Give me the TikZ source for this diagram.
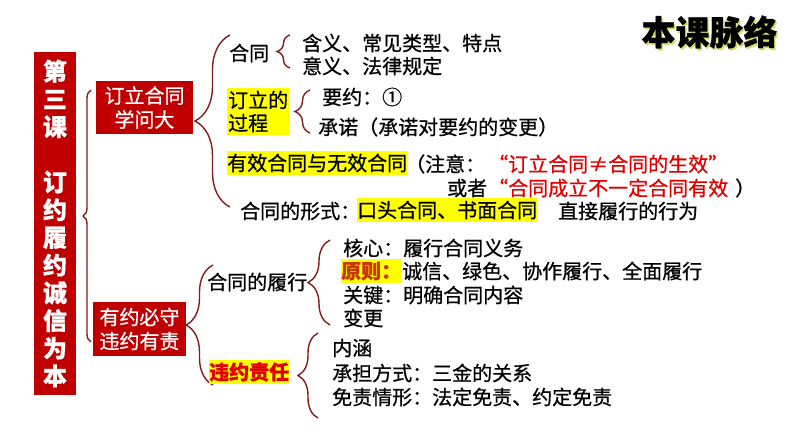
\documentclass[tikz,border=0pt]{standalone}
\usepackage{fontspec}
\setmainfont{Noto Sans CJK SC}[FakeBold=0.7]
\usetikzlibrary{decorations.pathreplacing}
\definecolor{boxred}{HTML}{C00000}
\definecolor{bracered}{HTML}{7F1D1D}
\definecolor{hiyellow}{HTML}{FFFF00}
\definecolor{warnred}{HTML}{E00000}
\definecolor{prinred}{HTML}{C8380A}
\definecolor{ttlshade}{HTML}{D4DC6A}
\tikzset{
  redbox/.style={fill=boxred, text=white, inner sep=0pt, align=center, font=\fontsize{20}{24}\selectfont},
  brc/.style={draw=bracered, line width=1.4pt, decorate, decoration={brace, amplitude=#1}},
  txt/.style={anchor=west, inner sep=0pt, font=\fontsize{20}{24}\selectfont},
  hltxt/.style={txt, fill=hiyellow, inner ysep=2.5pt},
  warn/.style={txt, text=warnred},
  hlkey/.style={hltxt, font=\bfseries\fontsize{20}{24}\selectfont},
  ttl/.style={inner sep=0pt, font=\bfseries\fontsize{34}{40}\selectfont},
}
\begin{document}
\begin{tikzpicture}[x=1pt,y=-1pt]
  \useasboundingbox (0,0) rectangle (794,447);
  % title
  \node[ttl, text=ttlshade] (ttlbg) at (711,34) {本课脉络};
  \node[ttl] (ttlfg) at (709.5,32) {本课脉络};
  % red boxes
  \node[redbox, minimum width=42, minimum height=343, font=\bfseries\fontsize{24}{27.7}\selectfont] (lesson) at (55,223.5)
    {第\\三\\课\\[27.7pt]订\\约\\履\\约\\诚\\信\\为\\本};
  \node[redbox, minimum width=97, minimum height=53] (lawbox) at (144.5,107.5) {订立合同\\学问大};
  \node[redbox, minimum width=93, minimum height=54] (dutybox) at (139.5,329) {有约必守\\违约有责};
  % brace anchors
  \coordinate (bigtop) at (91,90);
  \coordinate (bigbot) at (91,342);
  \coordinate (lawtop) at (230,35);
  \coordinate (lawbot) at (230,207);
  \coordinate (httop) at (290,35);
  \coordinate (htbot) at (290,68);
  \coordinate (proctop) at (310,90);
  \coordinate (procbot) at (310,133);
  \coordinate (dutytop) at (213,265);
  \coordinate (dutybot) at (213,385);
  \coordinate (perftop) at (330,240);
  \coordinate (perfbot) at (330,325);
  \coordinate (breachtop) at (318,333);
  \coordinate (breachbot) at (318,418);
  \draw[brc=8] (bigbot) -- (bigtop);
  \draw[brc=35] (lawbot) -- (lawtop);
  \draw[brc=13] (htbot) -- (httop);
  \draw[brc=15] (procbot) -- (proctop);
  \draw[brc=27] (dutybot) -- (dutytop);
  \draw[brc=22] (perfbot) -- (perftop);
  \draw[brc=20] (breachbot) -- (breachtop);
  % 订立合同学问大
  \node[txt] (ht) at (229,53) {合同};
  \node[txt] (ht1) at (302,43) {含义、常见类型、特点};
  \node[txt] (ht2) at (302,66) {意义、法律规定};
  \node[hltxt, align=left, inner xsep=1pt, font=\fontsize{20}{23}\selectfont] (proc) at (227,111.5) {订立的\\过程};
  \node[txt] (offer) at (322,97) {要约：①};
  \node[txt] (accept) at (318,127) {承诺（承诺对要约的变更）};
  \node[hltxt] (valid) at (227,163) {有效合同与无效合同};
  \node[txt] (note) at (405,164) {（注意：};
  \node[warn] (warn1) at (488,164) {“订立合同≠合同的生效”};
  \node[txt] (orr) at (447,188) {或者};
  \node[warn] (warn2) at (488,188) {“合同成立不一定合同有效};
  \node[txt] (close) at (735,188) {）};
  \node[txt] (form) at (240,211) {合同的形式：};
  \node[hltxt] (formhl) at (357,210) {口头合同、书面合同};
  \node[txt] (direct) at (558,211) {直接履行的行为};
  % 有约必守违约有责
  \node[txt] (perform) at (207,282) {合同的履行};
  \node[txt] (core) at (343,248) {核心：履行合同义务};
  \node[hlkey, text=prinred] (prin) at (341,271) {原则：};
  \node[txt] (prin2) at (402,271) {诚信、绿色、协作履行、全面履行};
  \node[txt] (keyln) at (343,295) {关键：明确合同内容};
  \node[txt] (change) at (343,318) {变更};
  \node[hlkey, text=warnred] (breach) at (209,372) {违约责任};
  \node[txt] (mean) at (332,348) {内涵};
  \node[txt] (bear) at (332,373) {承担方式：三金的关系};
  \node[txt] (exempt) at (332,397) {免责情形：法定免责、约定免责};
\end{tikzpicture}
\end{document}
